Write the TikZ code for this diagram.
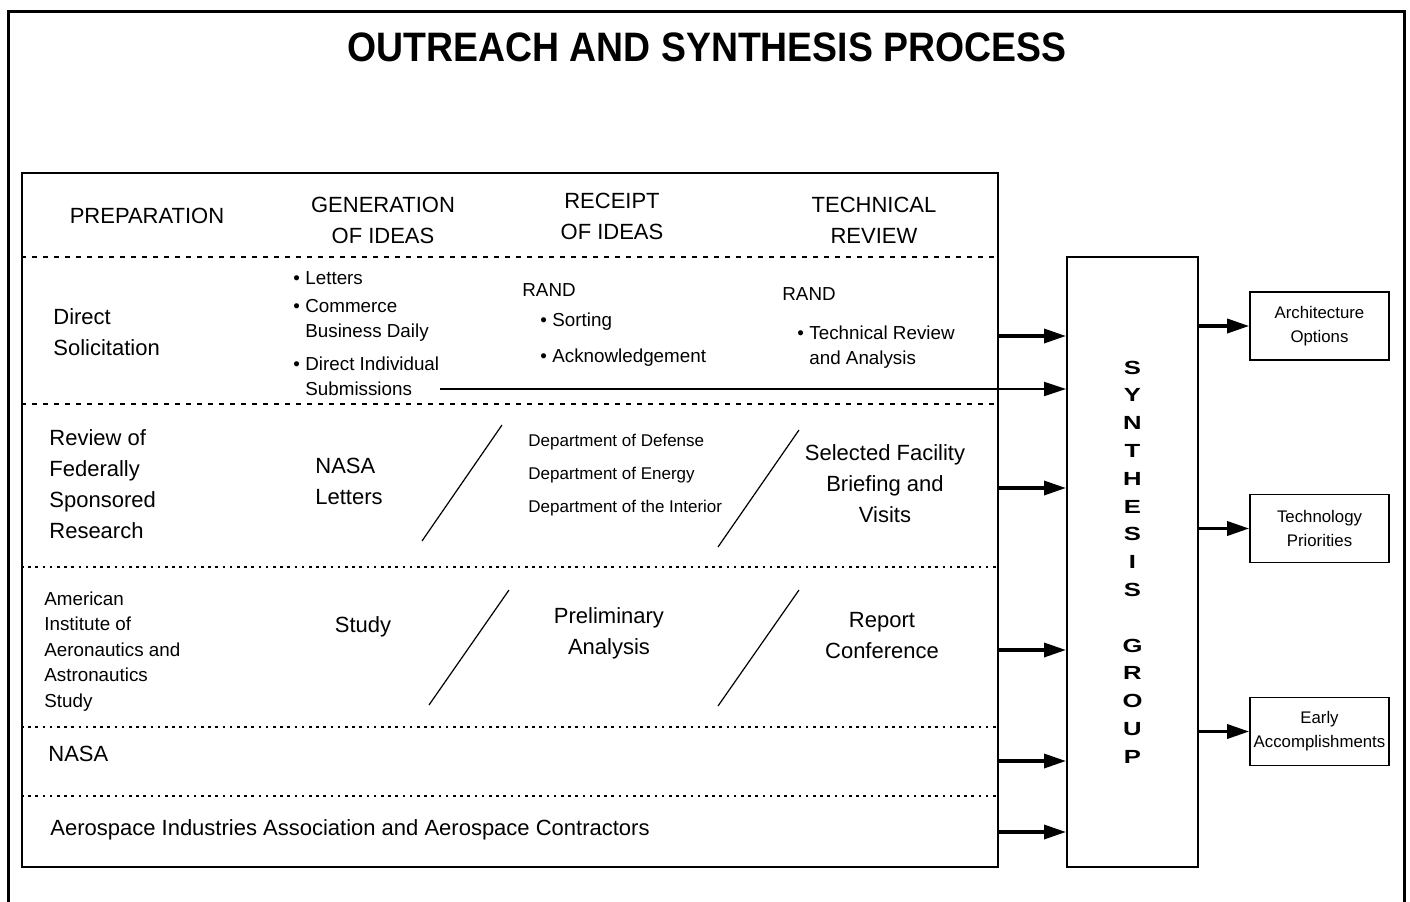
\documentclass[tikz,border=0pt]{standalone}
\usepackage{fontspec}
\setmainfont{Liberation Sans}
\newfontfamily\synthfont[FakeStretch=1.35]{Liberation Sans}
\usetikzlibrary{positioning,arrows.meta}
\newcommand{\itm}{\makebox[6pt][l]{\textbullet}}

\begin{document}
\begin{tikzpicture}[
        x=0.5pt, y=-0.5pt,
        txt/.style={inner sep=0pt, align=left, font=\fontsize{11}{15.5}\selectfont},
        head/.style={txt, align=center},
        small/.style={inner sep=0pt, align=left, font=\fontsize{9.4}{12.6}\selectfont},
        dept/.style={inner sep=0pt, align=left, font=\fontsize{8.5}{16.5}\selectfont},
        outbox/.style={draw, line width=0.8pt, inner sep=1pt, minimum width=69.5pt,
                       minimum height=34pt, align=center, font=\fontsize{8.4}{12}\selectfont},
        sep/.style={line width=0.8pt, dash pattern=on 2.5pt off 3pt},
        dots/.style={line width=0.8pt, dash pattern=on 1.3pt off 2.3pt},
        slash/.style={line width=0.6pt},
        arr/.style={-{Triangle[length=11pt,width=7pt]}, line width=1.7pt}
    ]
        \path[use as bounding box, clip] (0,0) rectangle (1410,901);
        \draw[line width=1.5pt] (8,960) -- (8,11) -- (1404,11) -- (1404,960);

        \node[font=\fontsize{18.7}{22}\selectfont\bfseries, yscale=1.1] (title) at (707,47) {OUTREACH AND SYNTHESIS PROCESS};

        \node[draw, line width=1pt, minimum width=488pt, minimum height=347pt] (panel) at (510,520) {};
        \node[draw, line width=1pt, minimum width=65.5pt, minimum height=305pt, align=center,
              font=\synthfont\fontsize{9.5}{13.9}\selectfont\bfseries] (synth) at (1132.5,562)
            {S\\Y\\N\\T\\H\\E\\S\\I\\S\\[13.9pt]G\\R\\O\\U\\P};

        % column heads
        \node[head] (hprep) at (147,216)   {PREPARATION};
        \node[head] (hgen)  at (383,220.5) {GENERATION\\OF IDEAS};
        \node[head] (hrec)  at (612,216.5) {RECEIPT\\OF IDEAS};
        \node[head] (htech) at (874,220.5) {TECHNICAL\\REVIEW};

        \foreach \yy in {257,404}
            \draw[sep] (panel.west |- 0,\yy) -- (panel.east |- 0,\yy);
        \foreach \yy in {567,727,796}
            \draw[dots] (panel.west |- 0,\yy) -- (panel.east |- 0,\yy);

        % direct solicitation
        \node[txt, anchor=west] (direct) at (53,332.5) {Direct\\Solicitation};
        \node[small, anchor=west] (glet) at (293,278) {\itm Letters};
        \node[small, anchor=west] (gcbd) at (293,320.5) {\itm Commerce\\\hspace*{6pt}Business Daily};
        \node[small, anchor=west] (gdis) at (293,376) {\itm Direct Individual\\\hspace*{6pt}Submissions};
        \node[small, anchor=west] (rrand) at (522,290) {RAND};
        \node[small, anchor=west] (rsort) at (540,322) {\itm Sorting};
        \node[small, anchor=west] (rack)  at (540,358) {\itm Acknowledgement};
        \node[small, anchor=west] (trand) at (782,294) {RAND};
        \node[small, anchor=west] (ttra)  at (797,347.5) {\itm Technical Review\\\hspace*{6pt}and Analysis};

        % federally sponsored research
        \node[txt, anchor=west] (fed) at (49,484.5) {Review of\\Federally\\Sponsored\\Research};
        \node[txt, anchor=west] (nlet) at (315,481.5) {NASA\\Letters};
        \node[dept, anchor=west] (depts) at (528,475.5)
            {Department of Defense\\Department of Energy\\Department of the Interior};
        \node[head] (sfb) at (885,484) {Selected Facility\\Briefing and\\Visits};
        \draw[slash] (422,541) -- (502,425);
        \draw[slash] (718,547) -- (799,430);

        % aiaa study
        \node[small, anchor=west, font=\fontsize{9.4}{12.8}\selectfont] (aiaa) at (44,651.5)
            {American\\Institute of\\Aeronautics and\\Astronautics\\Study};
        \node[head] (study)   at (363,627)   {Study};
        \node[head] (prelim)  at (609,633.5) {Preliminary\\Analysis};
        \node[head] (repconf) at (882,635.5) {Report\\Conference};
        \draw[slash] (429,705) -- (509,590);
        \draw[slash] (718,706) -- (799,590);

        \node[txt, anchor=west] (nasa) at (48,754) {NASA};
        \node[txt, anchor=west] (aia)  at (50,830) {Aerospace Industries Association and Aerospace Contractors};

        % into the synthesis group
        \foreach \yy in {336,488,650,761,832}
            \draw[arr] (panel.east |- 0,\yy) -- (synth.west |- 0,\yy);
        \draw[arr, line width=1.1pt] (gdis.east |- 0,389) -- (synth.west |- 0,389);

        % results
        \node[outbox] (arch)  at (1319.5,326)   {Architecture\\Options};
        \node[outbox] (tech)  at (1319.5,528.5) {Technology\\Priorities};
        \node[outbox] (early) at (1319.5,731.5) {Early\\Accomplishments};
        \foreach \n in {arch,tech,early}
            \draw[arr] (synth.east |- \n) -- (\n);
    \end{tikzpicture}
\end{document}
